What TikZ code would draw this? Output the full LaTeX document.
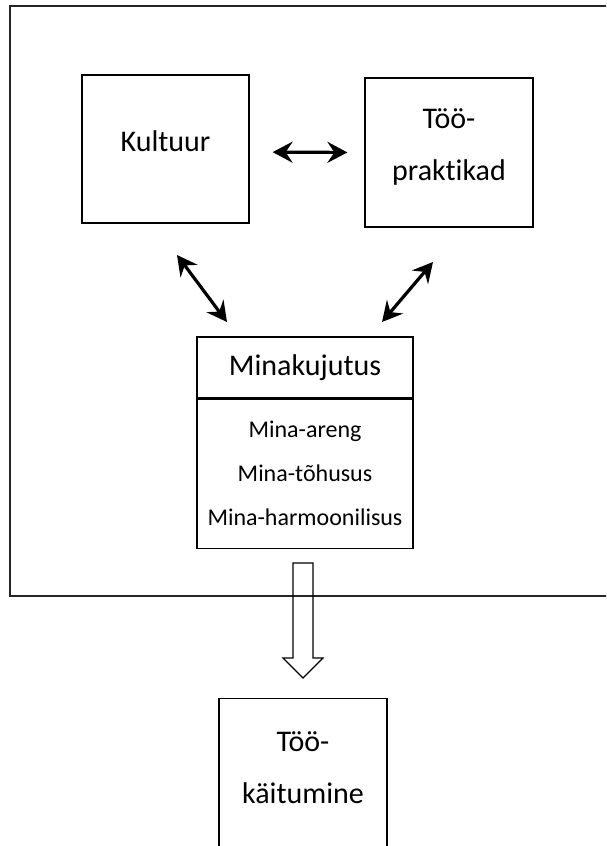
\documentclass[tikz,border=0pt]{standalone}
\usepackage{fontspec}
\setmainfont{Carlito}[Ligatures={NoCommon}]
\usetikzlibrary{arrows.meta,positioning}

\begin{document}
\begin{tikzpicture}[
  x=1pt, y=-1pt,
  big/.style={font=\fontsize{30}{52}\selectfont},
  small/.style={font=\fontsize{24}{44}\selectfont},
  box/.style={draw, line width=1.2pt, align=center, inner sep=0pt},
  dbl/.style={{Stealth[length=20pt,width=21pt,inset=7pt]}-{Stealth[length=20pt,width=21pt,inset=7pt]}, line width=3.2pt},
  blockarr/.style={draw, line width=1.2pt}
]
\useasboundingbox (0,0) rectangle (606,846);
\clip (0,0) rectangle (606,846);
% outer frame, runs past the right edge
\draw[line width=1.2pt, black!85] (10,6) rectangle (640,596);

\node[box, big, minimum width=167pt, minimum height=148pt, text depth=15pt] (kult) at (165.5,149) {Kultuur};
\node[box, big, minimum width=168pt, minimum height=149pt, text depth=15pt] (prak) at (449,152.5) {Töö-\\praktikad};
\node[box, big, minimum width=216pt, minimum height=61pt] (minahead) at (305,367.5) {Minakujutus};
\node[box, small, minimum width=216pt, minimum height=149pt, below=0pt of minahead] (minalist) {Mina-areng\\Mina-tõhusus\\Mina-harmoonilisus};
\node[box, big, minimum width=168pt, anchor=north, text height=105pt, text depth=160pt] (kait) at (303,698) {Töö-\\käitumine};

\coordinate (kultend) at (177,255);
\coordinate (minaleft) at (227,322);
\coordinate (prakend) at (433,262);
\coordinate (minaright) at (382,322);

\draw[dbl, shorten <=23pt, shorten >=17pt] ([yshift=-3pt]kult.east) -- (prak.west);
\draw[dbl] (kultend) -- (minaleft);
\draw[dbl] (prakend) -- (minaright);

% block arrow down to Töö-käitumine
\draw[blockarr] (293,563) -- (313,563) -- (313,658) -- (323,658) -- (303,678) -- (283,658) -- (293,658) -- cycle;
\end{tikzpicture}
\end{document}
